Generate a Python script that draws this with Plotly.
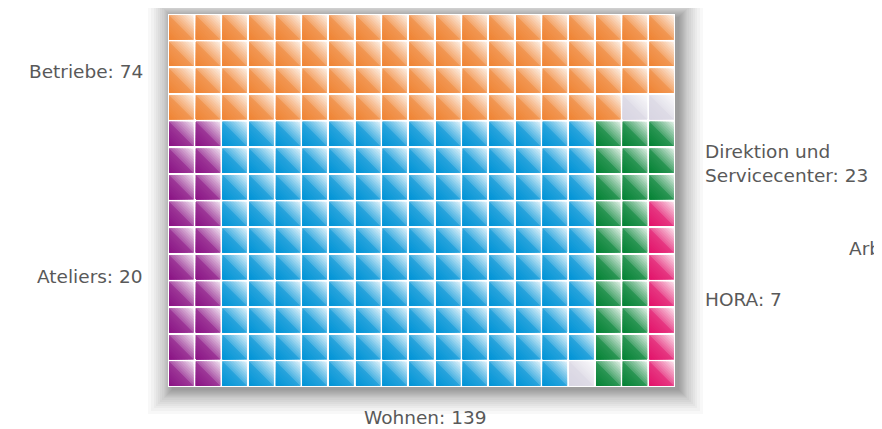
import plotly.graph_objects as go

# ---- data ----
categories = ["Betriebe", "Ateliers", "Wohnen", "Direktion und Servicecenter", "HORA"]
values = [74, 20, 139, 23, 7]
colors = ["#EF8434", "#8A1284", "#0093D6", "#038234", "#E2126A"]
label_texts = ["Betriebe: 74", "Ateliers: 20", "Wohnen: 139",
               "Direktion und<br>Servicecenter: 23", "HORA: 7"]
extra_label = "Arbeit"

n_cols = 19
top_rows = 4
bottom_rows = 10
n_rows = top_rows + bottom_rows
EMPTY = "empty"
empty_color = "#D8D5E2"

# ---- build the waffle layout ----
cells = []  # (col, row_from_top, category)
top_seq = [categories[0]] * values[0]
top_seq += [EMPTY] * (top_rows * n_cols - len(top_seq))
for i, c in enumerate(top_seq):
    cells.append((i % n_cols, i // n_cols, c))

low_seq = [categories[1]] * values[1] + [categories[2]] * values[2]
low_seq += [EMPTY] * ((-len(low_seq)) % bottom_rows)
low_seq += [categories[3]] * values[3] + [categories[4]] * values[4]
for i, c in enumerate(low_seq):
    cells.append((i // bottom_rows, top_rows + i % bottom_rows, c))

color_of = dict(zip(categories, colors))
color_of[EMPTY] = empty_color


def hex_rgb(h):
    h = h.lstrip("#")
    return tuple(int(h[i:i + 2], 16) for i in (0, 2, 4))


def mix(col, amt):
    r, g, b = hex_rgb(col)
    return "rgb(%d,%d,%d)" % (round(255 + (r - 255) * amt),
                              round(255 + (g - 255) * amt),
                              round(255 + (b - 255) * amt))


def shade(t):
    # t: 0 at top-right corner, 1 at bottom-left corner
    if t < 0.5:
        return 0.12 + (t / 0.5) * 0.6
    return 0.84 + ((t - 0.5) / 0.5) * 0.16


gap = 0.09
N_BANDS = 18

fig = go.Figure()
cat_order = [EMPTY] + categories
for k in range(N_BANDS):
    a = k / N_BANDS
    tmid = (k + 0.5) / N_BANDS
    for cat in cat_order:
        xs, ys = [], []
        for (c, r, cc) in cells:
            if cc != cat:
                continue
            x0 = c + gap / 2
            x1 = c + 1 - gap / 2
            y1 = n_rows - r - gap / 2
            y0 = n_rows - r - 1 + gap / 2
            s = x1 - x0
            d = 2 * s * a
            if d <= s:
                px = [x0, x0, x1 - d, x1, x1, x0]
                py = [y0, y1, y1, y1 - d, y0, y0]
            else:
                e = 2 * s - d
                px = [x0, x0, x0 + e, x0]
                py = [y0, y0 + e, y0, y0]
            xs += px + [None]
            ys += py + [None]
        if not xs:
            continue
        fig.add_trace(go.Scatter(
            x=xs, y=ys, mode="lines", fill="toself",
            fillcolor=mix(color_of[cat], shade(tmid)),
            line=dict(width=0), hoverinfo="skip", showlegend=False))

# ---- geometry (page body has an 8px margin) ----
OFF = 8
W, H = 882, 429
ml, mt = 168 - OFF, 14 - OFF
pw, ph = 507, 373
mr = W - ml - pw
mb = H - mt - ph
px_x, px_y = 1 / pw, 1 / ph

# ---- soft drop shadow behind the grid ----
shapes = []
steps = [0, 1, 2, 3, 4, 5, 6, 7, 8, 10, 12, 14, 16, 18, 21, 24]
for i in steps:
    shapes.append(dict(type="rect", xref="paper", yref="paper", layer="below",
                       x0=(-i + 4) * px_x, x1=1 + (i + 4) * px_x,
                       y0=-(i + 3) * px_y, y1=1 + (i - 3) * px_y,
                       fillcolor="rgba(0,0,0,0.026)", line=dict(width=0)))
shapes.append(dict(type="rect", xref="paper", yref="paper", layer="below",
                   x0=0, x1=1, y0=0, y1=1, fillcolor="white", line=dict(width=0)))

font = dict(family="DejaVu Sans", size=18.5, color="#595959")
ann = [
    dict(text=label_texts[0], x=145, y=71, xanchor="right"),
    dict(text=label_texts[1], x=145, y=276, xanchor="right"),
    dict(text=label_texts[2], x=425, y=417, xanchor="center"),
    dict(text=label_texts[3], x=703, y=163, xanchor="left", align="left"),
    dict(text=label_texts[4], x=703, y=299, xanchor="left"),
    dict(text=extra_label, x=847, y=248, xanchor="left"),
]
annotations = []
for a_ in ann:
    annotations.append(dict(text=a_["text"], xref="paper", yref="paper",
                            x=(a_["x"] - OFF - ml) / pw,
                            y=1 - (a_["y"] - OFF - mt) / ph,
                            xanchor=a_["xanchor"], yanchor="middle",
                            align=a_.get("align", "center"),
                            showarrow=False, font=font))

fig.update_layout(
    width=W, height=H,
    margin=dict(l=ml, r=mr, t=mt, b=mb, pad=0),
    paper_bgcolor="white", plot_bgcolor="rgba(0,0,0,0)",
    xaxis=dict(range=[0, n_cols], visible=False, fixedrange=True),
    yaxis=dict(range=[0, n_rows], visible=False, fixedrange=True),
    shapes=shapes, annotations=annotations, showlegend=False,
)
fig.write_html("out.html", config={"displayModeBar": False})
